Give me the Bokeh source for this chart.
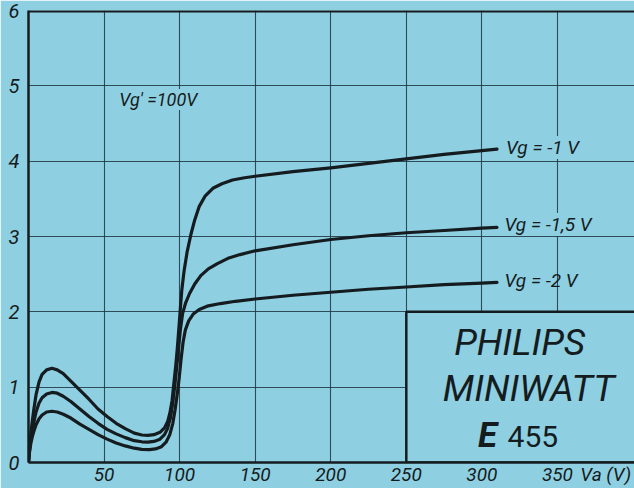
from bokeh.plotting import figure
from bokeh.models import Range1d, FixedTicker, Label, Span
from bokeh.embed import file_html
from bokeh.resources import INLINE

# ---- data (anode voltage Va in V, anode current in mA) ----
va_m1 = [0, 0.7, 1.5, 2.5, 3.5, 5, 7, 9, 12, 15.5, 19, 23, 28, 34, 40, 46, 52, 58, 64, 70,
         75, 79, 83, 87, 90, 92, 93.5, 95, 96.2, 97.5, 98.5, 99.5, 100.5, 101.5, 103, 105,
         107.5, 110, 113, 117, 122, 128, 135, 143, 150, 175, 200, 225, 250, 275, 300, 310]
ia_m1 = [0, 0.20, 0.38, 0.55, 0.70, 0.90, 1.07, 1.17, 1.23, 1.25, 1.23, 1.18, 1.08, 0.96,
         0.84, 0.71, 0.61, 0.52, 0.45, 0.39, 0.365, 0.36, 0.37, 0.40, 0.46, 0.54, 0.65, 0.82,
         1.05, 1.30, 1.52, 1.78, 2.05, 2.30, 2.55, 2.80, 3.03, 3.22, 3.40, 3.54, 3.64, 3.70,
         3.75, 3.78, 3.80, 3.86, 3.91, 3.97, 4.03, 4.09, 4.14, 4.16]

va_m15 = [0, 0.7, 1.5, 2.5, 3.5, 5, 7, 9, 12, 15.5, 19, 23, 28, 34, 40, 46, 52, 58, 64, 70,
          75, 79, 83, 87, 90, 92, 94, 95.5, 96.7, 98, 99.3, 100.6, 102, 104, 106.5, 110,
          114, 119, 125, 132, 140, 150, 175, 200, 225, 250, 275, 300, 310]
ia_m15 = [0, 0.17, 0.30, 0.42, 0.53, 0.67, 0.79, 0.86, 0.91, 0.93, 0.92, 0.88, 0.81, 0.71,
          0.61, 0.52, 0.44, 0.38, 0.33, 0.29, 0.275, 0.27, 0.28, 0.31, 0.37, 0.45, 0.60,
          0.80, 1.00, 1.25, 1.52, 1.78, 1.98, 2.12, 2.24, 2.37, 2.48, 2.57, 2.64, 2.71,
          2.76, 2.81, 2.89, 2.96, 3.01, 3.05, 3.08, 3.11, 3.12]

va_m2 = [0, 0.7, 1.5, 2.5, 3.5, 5, 7, 9, 12, 15.5, 19, 23, 28, 34, 40, 46, 52, 58, 64, 70,
         75, 80, 84, 88, 91, 93.5, 95.5, 97, 98.5, 99.7, 101, 102.3, 103.8, 106, 109, 113,
         119, 127, 137, 150, 175, 200, 225, 250, 275, 300, 310]
ia_m2 = [0, 0.14, 0.25, 0.34, 0.41, 0.50, 0.58, 0.63, 0.67, 0.68, 0.67, 0.64, 0.59, 0.51,
         0.44, 0.37, 0.31, 0.26, 0.22, 0.19, 0.175, 0.17, 0.18, 0.21, 0.27, 0.37, 0.52,
         0.70, 0.92, 1.12, 1.38, 1.60, 1.76, 1.88, 1.97, 2.03, 2.08, 2.11, 2.14, 2.17,
         2.22, 2.26, 2.30, 2.33, 2.36, 2.38, 2.39]

x_ticks = [50, 100, 150, 200, 250, 300, 350]
y_ticks = [0, 1, 2, 3, 4, 5, 6]
x_axis_title = "Va (V)"

BG = "#8fcfe2"
INK = "#141c20"
GRID = "#1d3440"
FONT = "Roboto"
X_TITLE_POS = 382  # where the axis title sits along the x axis

p = figure(width=634, height=488, output_backend="svg", toolbar_location=None,
           x_range=Range1d(0, 401), y_range=Range1d(0, 6),
           min_border_left=28, min_border_right=0, min_border_top=10, min_border_bottom=24)
p.background_fill_color = BG
p.border_fill_color = BG
p.outline_line_color = None

for ax in (p.xaxis[0], p.yaxis[0]):
    ax.axis_line_width = 2.5
    ax.axis_line_color = INK
    ax.major_tick_out = 0
    ax.major_tick_in = 0
    ax.minor_tick_out = 0
    ax.minor_tick_in = 0
    ax.major_label_text_font = FONT
    ax.major_label_text_font_style = "italic"
    ax.major_label_text_color = INK
    ax.major_label_text_font_size = "20px"

p.xaxis.major_label_text_font_size = "19px"
p.xaxis.ticker = FixedTicker(ticks=x_ticks + [X_TITLE_POS])
p.xaxis.major_label_overrides = {X_TITLE_POS: x_axis_title}
p.yaxis.ticker = FixedTicker(ticks=y_ticks)
p.xaxis.major_label_standoff = 0
p.yaxis.major_label_standoff = 9

p.xgrid.ticker = FixedTicker(ticks=x_ticks)
p.ygrid.ticker = FixedTicker(ticks=y_ticks[1:6])
for g in (p.xgrid[0], p.ygrid[0]):
    g.grid_line_color = GRID
    g.grid_line_width = 1.1
    g.grid_line_alpha = 0.85

# top border of the frame
p.add_layout(Span(location=6, dimension="width", line_color=INK, line_width=4))

# curves
for xs, ys in ((va_m1, ia_m1), (va_m15, ia_m15), (va_m2, ia_m2)):
    p.line(xs, ys, line_color=INK, line_width=3.2, line_join="round", line_cap="round")

# title box (covers the grid)
p.quad(left=[250], right=[410], bottom=[0], top=[2], fill_color=BG,
       line_color=INK, line_width=2.5)


def lab(x, y, t, size, style="italic", align="left", bg=None):
    kw = {}
    if bg:
        kw = dict(background_fill_color=bg, background_fill_alpha=1.0)
    p.add_layout(Label(x=x, y=y, text=t, text_font=FONT, text_font_style=style,
                       text_font_size=size, text_color=INK, text_align=align,
                       text_baseline="middle", **kw))


lab(60, 4.82, "Vg' =100V", "18px", bg=BG)
lab(316, 4.18, "Vg = -1 V", "19px", bg=BG)
lab(315, 3.16, "Vg = -1,5 V", "19px", bg=BG)
lab(315, 2.41, "Vg = -2 V", "19px")

lab(325, 1.59, "PHILIPS", "37px", align="center")
lab(331, 0.98, "MINIWATT", "37px", align="center")
lab(297.5, 0.36, "E", "35px", style="bold italic")
lab(317, 0.35, "455", "30px", style="normal")

open("out.html", "w").write(file_html(p, INLINE))
